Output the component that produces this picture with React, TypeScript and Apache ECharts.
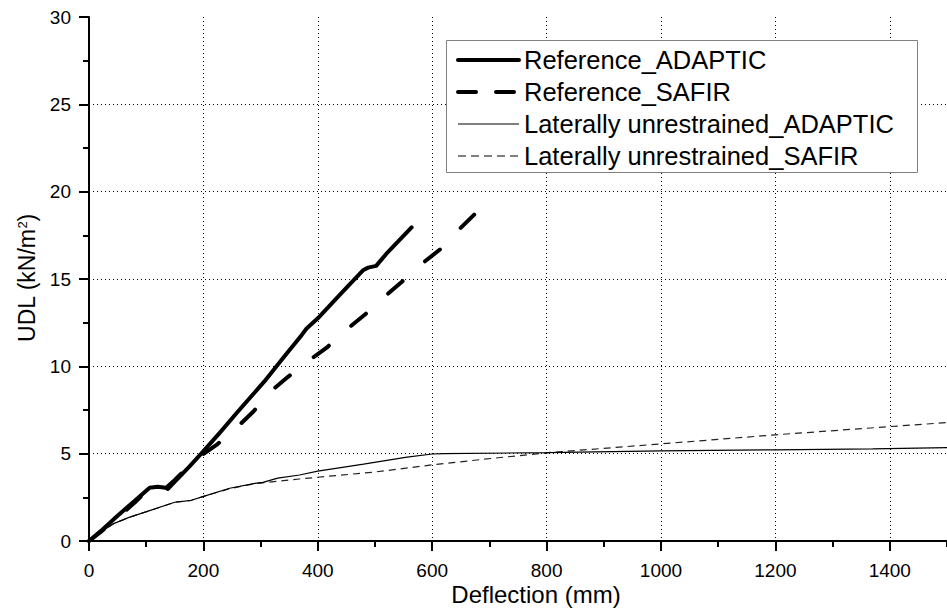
import React, { useEffect, useRef } from "react";
import * as echarts from "echarts";

const FONT = "'Liberation Sans', Arial, Helvetica, sans-serif";

const SERIES_NAMES = [
  "Reference_ADAPTIC",
  "Reference_SAFIR",
  "Laterally unrestrained_ADAPTIC",
  "Laterally unrestrained_SAFIR",
];

const refAdapticX = [0, 20, 50, 80, 106, 120, 134, 138, 150, 175, 199, 230, 260, 307, 340, 372, 380, 400, 440, 479, 488, 502, 520, 564];
const refAdapticY = [0, 0.55, 1.45, 2.3, 3.05, 3.1, 3.05, 2.98, 3.4, 4.25, 5.1, 6.25, 7.4, 9.15, 10.5, 11.8, 12.15, 12.75, 14.15, 15.5, 15.65, 15.75, 16.45, 17.95];

const refSafirX = [0, 20, 50, 80, 100, 110, 135, 150, 175, 194, 223, 260, 287, 319, 348, 383, 415, 450, 482, 519, 549, 583, 614, 649, 680];
const refSafirY = [0, 0.5, 1.35, 2.2, 2.85, 3.0, 3.05, 3.5, 4.3, 4.85, 5.5, 6.55, 7.4, 8.6, 9.4, 10.3, 11.05, 12.1, 12.95, 14.05, 14.9, 15.9, 16.7, 17.9, 18.9];

const latAdapticX = [0, 20, 42, 70, 106, 150, 179, 199, 246, 290, 304, 330, 368, 400, 480, 556, 600, 620, 800, 1000, 1200, 1370, 1500];
const latAdapticY = [0, 0.5, 0.98, 1.35, 1.74, 2.22, 2.33, 2.54, 3.02, 3.3, 3.36, 3.6, 3.78, 4.0, 4.4, 4.8, 4.98, 5.0, 5.06, 5.16, 5.22, 5.28, 5.35];

const latSafirX = [0, 20, 42, 70, 106, 150, 179, 199, 246, 290, 330, 368, 400, 500, 600, 690, 800, 1000, 1200, 1400, 1500];
const latSafirY = [0, 0.5, 0.98, 1.35, 1.74, 2.22, 2.33, 2.54, 3.0, 3.28, 3.42, 3.55, 3.65, 3.95, 4.36, 4.68, 5.05, 5.56, 6.08, 6.55, 6.78];

const X_MIN = 0;
const X_MAX = 1500;
const X_MAJOR = 200;
const X_MINOR = 100;
const Y_MIN = 0;
const Y_MAX = 30;
const Y_MAJOR = 5;

const X_TITLE = "Deflection (mm)";
const Y_TITLE = "UDL (kN/m{sup|2})";

const zip = (xs: number[], ys: number[]) => xs.map((x, i) => [x, ys[i]]);

export default function App() {
  const ref = useRef<HTMLDivElement>(null);

  useEffect(() => {
    if (!ref.current) return;
    const chart = echarts.init(ref.current, null, { renderer: "svg" });

    const dotted = { color: "#000", type: [1, 3], width: 1 };

    const option: any = {
      animation: false,
      backgroundColor: "#fff",
      color: ["#000", "#000", "#000", "#222"],
      grid: { left: 89, right: 0, top: 17, bottom: 73, containLabel: false },
      xAxis: [
        {
          type: "value",
          min: X_MIN,
          max: X_MAX,
          interval: X_MAJOR,
          axisLine: { show: true, onZero: false, lineStyle: { color: "#000", width: 2 } },
          axisTick: { show: true, inside: false, length: 10, lineStyle: { color: "#000", width: 2 } },
          axisLabel: {
            show: true,
            margin: 20,
            color: "#000",
            fontSize: 19,
            fontFamily: FONT,
            showMaxLabel: false,
            formatter: (v: number) => String(v),
          },
          splitLine: { show: true, showMinLine: false, showMaxLine: false, lineStyle: dotted },
        },
        {
          type: "value",
          min: X_MIN,
          max: X_MAX,
          interval: X_MINOR,
          position: "bottom",
          axisLine: { show: false, onZero: false },
          axisTick: { show: true, inside: false, length: 6, lineStyle: { color: "#000", width: 2 } },
          axisLabel: { show: false },
          splitLine: { show: false },
        },
      ],
      yAxis: {
        type: "value",
        min: Y_MIN,
        max: Y_MAX,
        interval: Y_MAJOR,
        axisLine: { show: true, onZero: false, lineStyle: { color: "#000", width: 2 } },
        axisTick: { show: true, inside: false, length: 10, lineStyle: { color: "#000", width: 2 } },
        minorTick: { show: true, splitNumber: 2, length: 6, lineStyle: { color: "#000", width: 2 } },
        axisLabel: {
          show: true,
          margin: 18,
          color: "#000",
          fontSize: 19,
          fontFamily: FONT,
          formatter: (v: number) => String(v),
        },
        splitLine: { show: true, showMinLine: false, showMaxLine: false, lineStyle: dotted },
      },
      legend: {
        orient: "vertical",
        left: 446,
        top: 41,
        padding: [6, 10, 4, 10],
        itemGap: 6,
        itemWidth: 61,
        itemHeight: 20,
        z: 6,
        backgroundColor: "transparent",
        borderWidth: 0,
        selectedMode: false,
        itemStyle: { opacity: 0 },
        textStyle: { color: "#000", fontSize: 25.5, fontFamily: FONT, lineHeight: 26 },
        data: [
          { name: SERIES_NAMES[0], itemStyle: { opacity: 0 }, lineStyle: { width: 4, type: "solid", color: "#000" } },
          { name: SERIES_NAMES[1], itemStyle: { opacity: 0 }, lineStyle: { width: 4, type: [18, 20], cap: "round", color: "#000" } },
          { name: SERIES_NAMES[2], itemStyle: { opacity: 0 }, lineStyle: { width: 1.2, type: "solid", color: "#000" } },
          { name: SERIES_NAMES[3], itemStyle: { opacity: 0 }, lineStyle: { width: 1.2, type: [8, 5], color: "#000" } },
        ],
      },
      graphic: [
        {
          type: "rect",
          z: 5,
          shape: { x: 446.5, y: 40.5, width: 471, height: 132 },
          style: { fill: "#fff", stroke: "#808080", lineWidth: 1 },
        },
        {
          type: "text",
          z: 5,
          x: 536,
          y: 594,
          style: {
            text: X_TITLE,
            fill: "#000",
            fontSize: 24,
            fontFamily: FONT,
            textAlign: "center",
            textVerticalAlign: "middle",
          },
        },
        {
          type: "text",
          z: 5,
          x: 27,
          y: 278,
          rotation: Math.PI / 2,
          style: {
            text: Y_TITLE,
            fill: "#000",
            fontSize: 23,
            fontFamily: FONT,
            textAlign: "center",
            textVerticalAlign: "middle",
            rich: {
              sup: { fontSize: 13, fontFamily: FONT, fill: "#000", verticalAlign: "top", lineHeight: 13 },
            },
          },
        },
      ],
      series: [
        {
          name: SERIES_NAMES[0],
          type: "line",
          symbol: "none",
          data: zip(refAdapticX, refAdapticY),
          itemStyle: { color: "#000" },
          lineStyle: { color: "#000", width: 4, type: "solid", cap: "round", join: "round" },
          z: 4,
        },
        {
          name: SERIES_NAMES[1],
          type: "line",
          symbol: "none",
          data: zip(refSafirX, refSafirY),
          itemStyle: { color: "#000" },
          lineStyle: { color: "#000", width: 4, type: [19, 30], cap: "round", join: "round" },
          z: 3,
        },
        {
          name: SERIES_NAMES[2],
          type: "line",
          symbol: "none",
          data: zip(latAdapticX, latAdapticY),
          itemStyle: { color: "#000" },
          lineStyle: { color: "#000", width: 1.2, type: "solid" },
          z: 3,
        },
        {
          name: SERIES_NAMES[3],
          type: "line",
          symbol: "none",
          data: zip(latSafirX, latSafirY),
          itemStyle: { color: "#222" },
          lineStyle: { color: "#222", width: 1.2, type: [7, 5] },
          z: 2,
        },
      ],
    };

    chart.setOption(option);
    return () => chart.dispose();
  }, []);

  return (
    <div
      ref={ref}
      style={{ position: "fixed", left: 0, top: 0, width: 947, height: 614, background: "#fff" }}
    />
  );
}
